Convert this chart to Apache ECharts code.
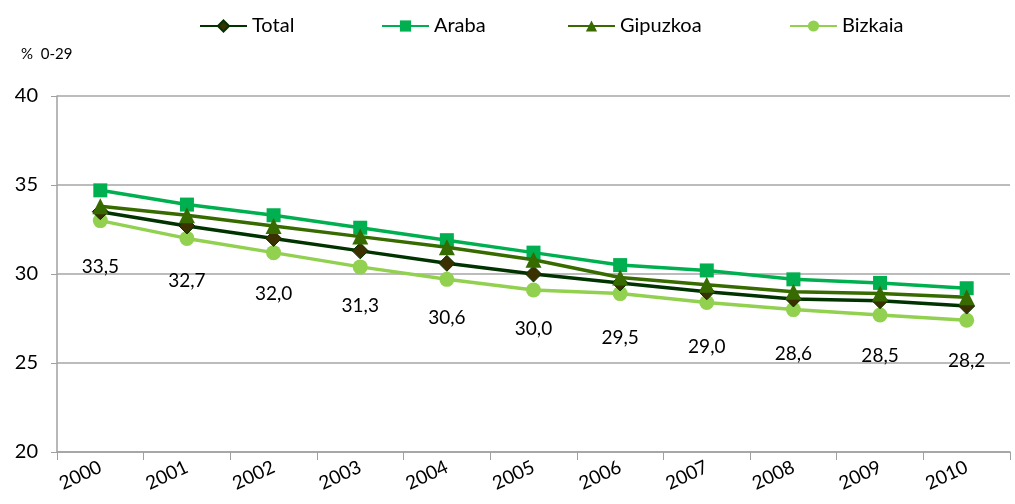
<!DOCTYPE html>
<html>
<head>
<meta charset="utf-8">
<script src="https://cdn.jsdelivr.net/npm/echarts@6/dist/echarts.min.js"></script>
<style>
  html, body { margin: 0; padding: 0; background: #fff; }
  #chart { width: 1015px; height: 504px; }
</style>
</head>
<body>
<div id="chart"></div>
<script>
const years = ['2000', '2001', '2002', '2003', '2004', '2005', '2006', '2007', '2008', '2009', '2010'];
const total = [33.5, 32.7, 32.0, 31.3, 30.6, 30.0, 29.5, 29.0, 28.6, 28.5, 28.2];
const araba = [34.7, 33.9, 33.3, 32.6, 31.9, 31.2, 30.5, 30.2, 29.7, 29.5, 29.2];
const gipuzkoa = [33.8, 33.3, 32.7, 32.1, 31.5, 30.8, 29.8, 29.4, 29.0, 28.9, 28.7];
const bizkaia = [33.0, 32.0, 31.2, 30.4, 29.7, 29.1, 28.9, 28.4, 28.0, 27.7, 27.4];
const yTicks = [20, 25, 30, 35, 40];
const names = ['Total', 'Araba', 'Gipuzkoa', 'Bizkaia'];

const font = 'Lato, "Open Sans", sans-serif';

function line(name, data, color, symbol, size, extra) {
  return Object.assign({
    name: name,
    type: 'line',
    data: data,
    symbol: symbol,
    symbolSize: size,
    lineStyle: { color: color, width: 3.5 },
    itemStyle: { color: color }
  }, extra || {});
}

// one legend per item so each sits where it does in the original
const legendLeft = [194, 376, 562, 784];
const legends = names.map((n, i) => ({
  top: 11,
  left: legendLeft[i],
  itemWidth: 47,
  itemHeight: 14,
  textStyle: { fontSize: 20, color: '#000', fontFamily: font },
  data: [n]
}));

const chart = echarts.init(document.getElementById('chart'));
chart.setOption({
  animation: false,
  textStyle: { fontFamily: font },
  legend: legends,
  graphic: [{
    type: 'text',
    left: 21,
    top: 47,
    style: { text: '%  0-29', fontSize: 15, fill: '#000', fontFamily: font }
  }],
  grid: { left: 57, right: 5, top: 96, bottom: 52 },
  xAxis: {
    type: 'category',
    data: years,
    boundaryGap: true,
    axisLine: { lineStyle: { color: '#a0a0a0', width: 1.5 } },
    axisTick: { show: true, length: 8, interval: 0, lineStyle: { color: '#a0a0a0' } },
    axisLabel: { rotate: 25, fontSize: 19, color: '#000', margin: 14, interval: 0, fontFamily: font }
  },
  yAxis: {
    type: 'value',
    min: yTicks[0],
    max: yTicks[yTicks.length - 1],
    interval: 5,
    axisLine: { show: true, lineStyle: { color: '#a0a0a0', width: 1.5 } },
    axisTick: { show: true, length: 6, lineStyle: { color: '#a0a0a0' } },
    splitLine: { lineStyle: { color: '#a6a6a6', width: 1.5 } },
    axisLabel: { fontSize: 20, color: '#000', margin: 19, fontFamily: font }
  },
  series: [
    line('Total', total, '#003300', 'diamond', 16, {
      itemStyle: { color: '#3a3000', borderColor: '#003300', borderWidth: 1 },
      z: 4,
      label: {
        show: true,
        position: 'bottom',
        distance: 37,
        fontSize: 19,
        color: '#000',
        fontFamily: font,
        formatter: p => p.value.toFixed(1).replace('.', ',')
      }
    }),
    line('Araba', araba, '#00b050', 'rect', 14, { z: 3 }),
    line('Gipuzkoa', gipuzkoa, '#376b00', 'triangle', 16, { z: 5 }),
    line('Bizkaia', bizkaia, '#92d050', 'circle', 15, { z: 2 })
  ]
});
</script>
</body>
</html>
